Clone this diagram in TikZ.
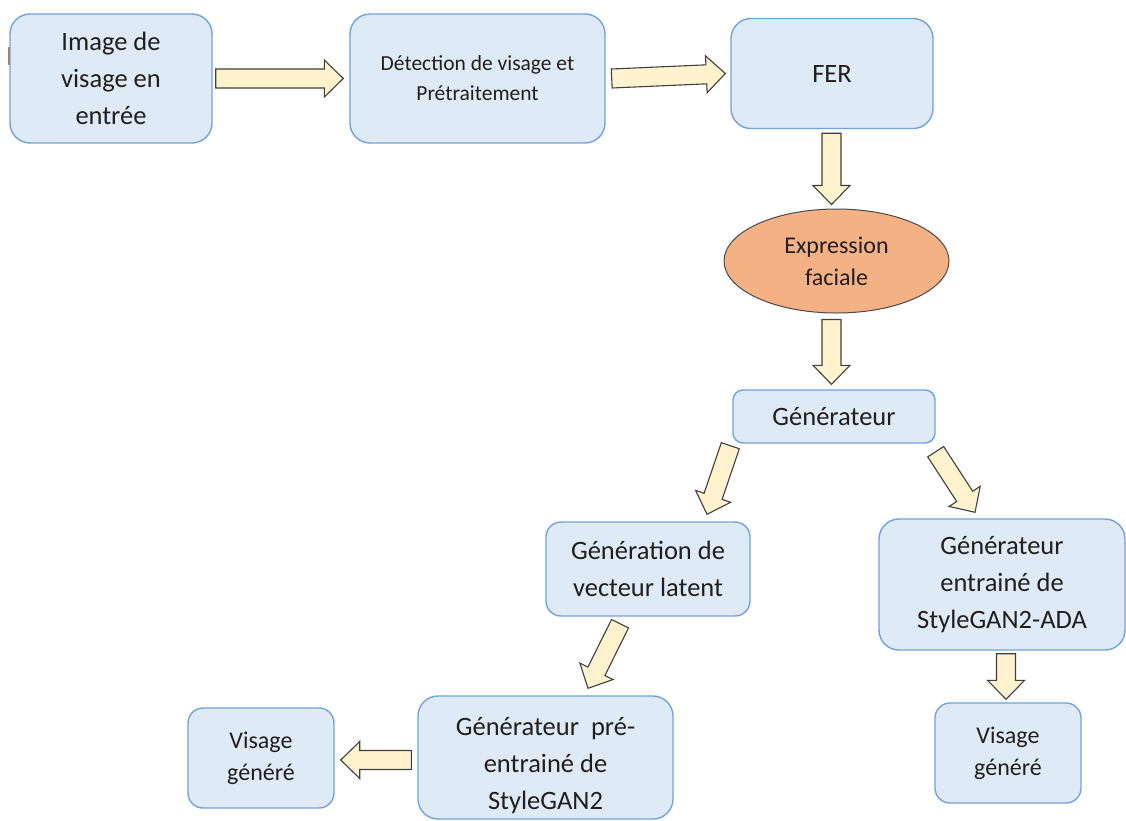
\documentclass[tikz,border=0pt]{standalone}
\usepackage{fontspec}
\setmainfont{Carlito}
\usetikzlibrary{calc,shapes.geometric}

\definecolor{boxfill}{HTML}{DEEBF7}
\definecolor{boxline}{HTML}{6FA3DA}
\definecolor{arrfill}{HTML}{FFF2CC}
\definecolor{arrline}{HTML}{3F3F3F}
\definecolor{ellfill}{HTML}{F4B183}
\definecolor{ellline}{HTML}{4A4A4A}
\definecolor{markcol}{HTML}{C8743C}
\definecolor{txt}{HTML}{1F1F1F}

% block arrow from tail coordinate #1 to tip coordinate #2
\newcommand{\blockarrow}[2]{%
  \coordinate (ba-b) at ($(#2)!19pt!(#1)$);
  \path[fatarrow]
    ($(#1)!9.5pt!90:(#2)$) -- ($(ba-b)!9.5pt!-90:(#1)$) --
    ($(ba-b)!18.5pt!-90:(#1)$) -- (#2) --
    ($(ba-b)!18.5pt!90:(#1)$) -- ($(ba-b)!9.5pt!90:(#1)$) --
    ($(#1)!9.5pt!-90:(#2)$) -- cycle;
}

\tikzset{
  box/.style={draw=boxline, line width=1.4pt, fill=boxfill,
    rounded corners=#1, align=center, inner sep=0pt, text=txt},
  box/.default=20pt,
  big/.style={font=\fontsize{26.5}{37}\selectfont},
  mid/.style={font=\fontsize{24}{32}\selectfont},
  small/.style={font=\fontsize{21.5}{30}\selectfont},
  fatarrow/.style={draw=arrline, line width=1.1pt, fill=arrfill, line join=miter},
}

\begin{document}
\begin{tikzpicture}[x=1pt, y=-1pt]
\useasboundingbox (0,0) rectangle (1126,820);
\fill[white] (0,0) rectangle (1126,820);

% small orange mark at the left edge
\draw[markcol, line width=2pt] (9,47) -- (9,65);

% boxes
\node[box, big, minimum width=202pt, minimum height=129pt] (img) at (111,78.5)
  {Image de\\visage en\\entrée};
\node[box, small, minimum width=255pt, minimum height=129pt] (det) at (477.5,78.5)
  {Détection de visage et\\Prétraitement};
\node[box, big, minimum width=202pt, minimum height=110pt] (fer) at (832,73.5) {FER};
\node[ellipse, draw=ellline, line width=1pt, fill=ellfill, mid, text=txt,
  minimum width=225pt, minimum height=104pt, inner sep=0pt, align=center]
  (expr) at (836.5,261) {Expression\\faciale};
\node[box=10pt, big, minimum width=202pt, minimum height=53pt] (gen) at (834,416.5)
  {Générateur};
\node[box=15pt, big, minimum width=204pt, minimum height=94pt] (lat) at (648,569)
  {Génération de\\vecteur latent};
\node[box, big, minimum width=246pt, minimum height=131pt] (ada) at (1002,584.5)
  {Générateur\\entrainé de\\StyleGAN2-ADA};
\node[box=15pt, mid, minimum width=146pt, minimum height=100pt] (visr) at (1008,753)
  {Visage\\généré};
\node[box, minimum width=255pt, minimum height=123pt] (pre) at (545.5,757.5) {};
\node[big, align=center, text=txt, inner sep=0pt] (pretxt) at (545.5,766)
  {Générateur\ \ pré-\\entrainé de\\StyleGAN2};
\node[box=15pt, mid, minimum width=146pt, minimum height=100pt] (visl) at (261,758)
  {Visage\\généré};

% connectors
\coordinate (a1s) at ($(img.east)+(3,0)$);
\coordinate (a1e) at ($(det.west)+(-6,0)$);
\blockarrow{a1s}{a1e}

\coordinate (a2s) at ($(det.east)+(6,0)$);
\coordinate (a2e) at ($(fer.west)+(-5,0)$);
\blockarrow{a2s}{a2e}

\coordinate (a3s) at ($(fer.south)+(-0.5,4)$);
\coordinate (a3e) at ($(fer.south |- expr.north)+(-0.5,-4)$);
\blockarrow{a3s}{a3e}

\coordinate (a4s) at ($(fer.south |- expr.south)+(-0.5,6)$);
\coordinate (a4e) at ($(fer.south |- gen.north)+(-0.5,-5)$);
\blockarrow{a4s}{a4e}

\coordinate (a5s) at ($(gen.south west)+(-2,2)$);
\coordinate (a5e) at ($(lat.north)+(59,-7)$);
\blockarrow{a5s}{a5e}

\coordinate (a6s) at ($(gen.south east)+(0,8)$);
\coordinate (a6e) at ($(ada.north)+(-27,-6)$);
\blockarrow{a6s}{a6e}

\coordinate (a7s) at ($(lat.south)+(-28,7)$);
\coordinate (a7e) at ($(pre.north)+(42.5,-7)$);
\blockarrow{a7s}{a7e}

\coordinate (a8s) at ($(pre.west)+(-6,2.5)$);
\coordinate (a8e) at ($(visl.east)+(6,2)$);
\blockarrow{a8s}{a8e}

\coordinate (a9s) at ($(ada.south)+(4,3)$);
\coordinate (a9e) at ($(visr.north)+(-2,-3)$);
\blockarrow{a9s}{a9e}
\end{tikzpicture}
\end{document}
